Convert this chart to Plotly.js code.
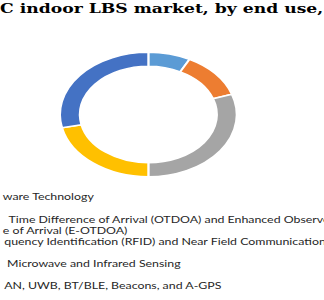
<!DOCTYPE html>
<html>
<head>
<meta charset="utf-8">
<script src="https://cdn.plot.ly/plotly-3.0.1.min.js"></script>
<style>
  html, body { margin: 0; padding: 0; overflow: hidden; background: #fff; width: 324px; height: 300px; }
  #chart { width: 228px; height: 300px; transform: scaleX(1.421); transform-origin: 0 0; }
</style>
</head>
<body>
<div id="chart"></div>
<script>
// Data
const chartTitle = "C indoor LBS market, by end use,";
const categories = [
  "ware Technology",
  "Time Difference of Arrival (OTDOA) and Enhanced Observed<br>e of Arrival (E-OTDOA)",
  "quency Identification (RFID) and Near Field Communication (NFC)",
  "Microwave and Infrared Sensing",
  "AN, UWB, BT/BLE, Beacons, and A-GPS"
];
const shares = [7.7, 12.0, 30.3, 21.6, 28.4];
const sliceColors = ["#5B9BD5", "#ED7D31", "#A5A5A5", "#FFC000", "#4472C4"];

const W = 228, H = 300, S = 324 / 228;
const legendFont = { family: "Lato, 'Noto Sans', sans-serif", size: 8.7, color: "#262626" };

// legend text lines (display coords: start x, center y)
const lineStartX = [[0.5], [5, 0], [1], [4], [1]];
const lineCenterY = [[196], [219, 230.5], [241], [263], [285]];

const annotations = [];
categories.forEach((c, i) => {
  c.split("<br>").forEach((ln, j) => {
    annotations.push({
      text: ln, xref: "paper", yref: "paper",
      x: lineStartX[i][j] / S / W, y: 1 - lineCenterY[i][j] / H,
      xanchor: "left", yanchor: "middle", showarrow: false,
      font: legendFont, align: "left"
    });
  });
});

const trace = {
  type: "pie",
  labels: categories,
  values: shares,
  hole: 0.775,
  sort: false,
  direction: "clockwise",
  rotation: 0,
  textinfo: "none",
  hoverinfo: "label+percent",
  marker: { colors: sliceColors, line: { color: "#ffffff", width: 1.5 } },
  domain: { x: [(104.4 - 62.2) / W, (104.4 + 62.2) / W], y: [1 - 176.7 / H, 1 - 52.3 / H] },
  showlegend: false
};

const layout = {
  width: W, height: H,
  margin: { l: 0, r: 0, t: 0, b: 0 },
  paper_bgcolor: "#ffffff",
  title: {
    text: "<b>" + chartTitle + "</b>",
    font: { family: "'DejaVu Serif', 'Liberation Serif', serif", size: 12.1, color: "#000000" },
    x: 0, xref: "container", xanchor: "left",
    y: 1 - 8.5 / H, yref: "container", yanchor: "middle",
    pad: { l: 0, r: 0, t: 0, b: 0 }
  },
  annotations: annotations,
  showlegend: false
};

Plotly.newPlot("chart", [trace], layout, { displayModeBar: false, staticPlot: true });
</script>
</body>
</html>
